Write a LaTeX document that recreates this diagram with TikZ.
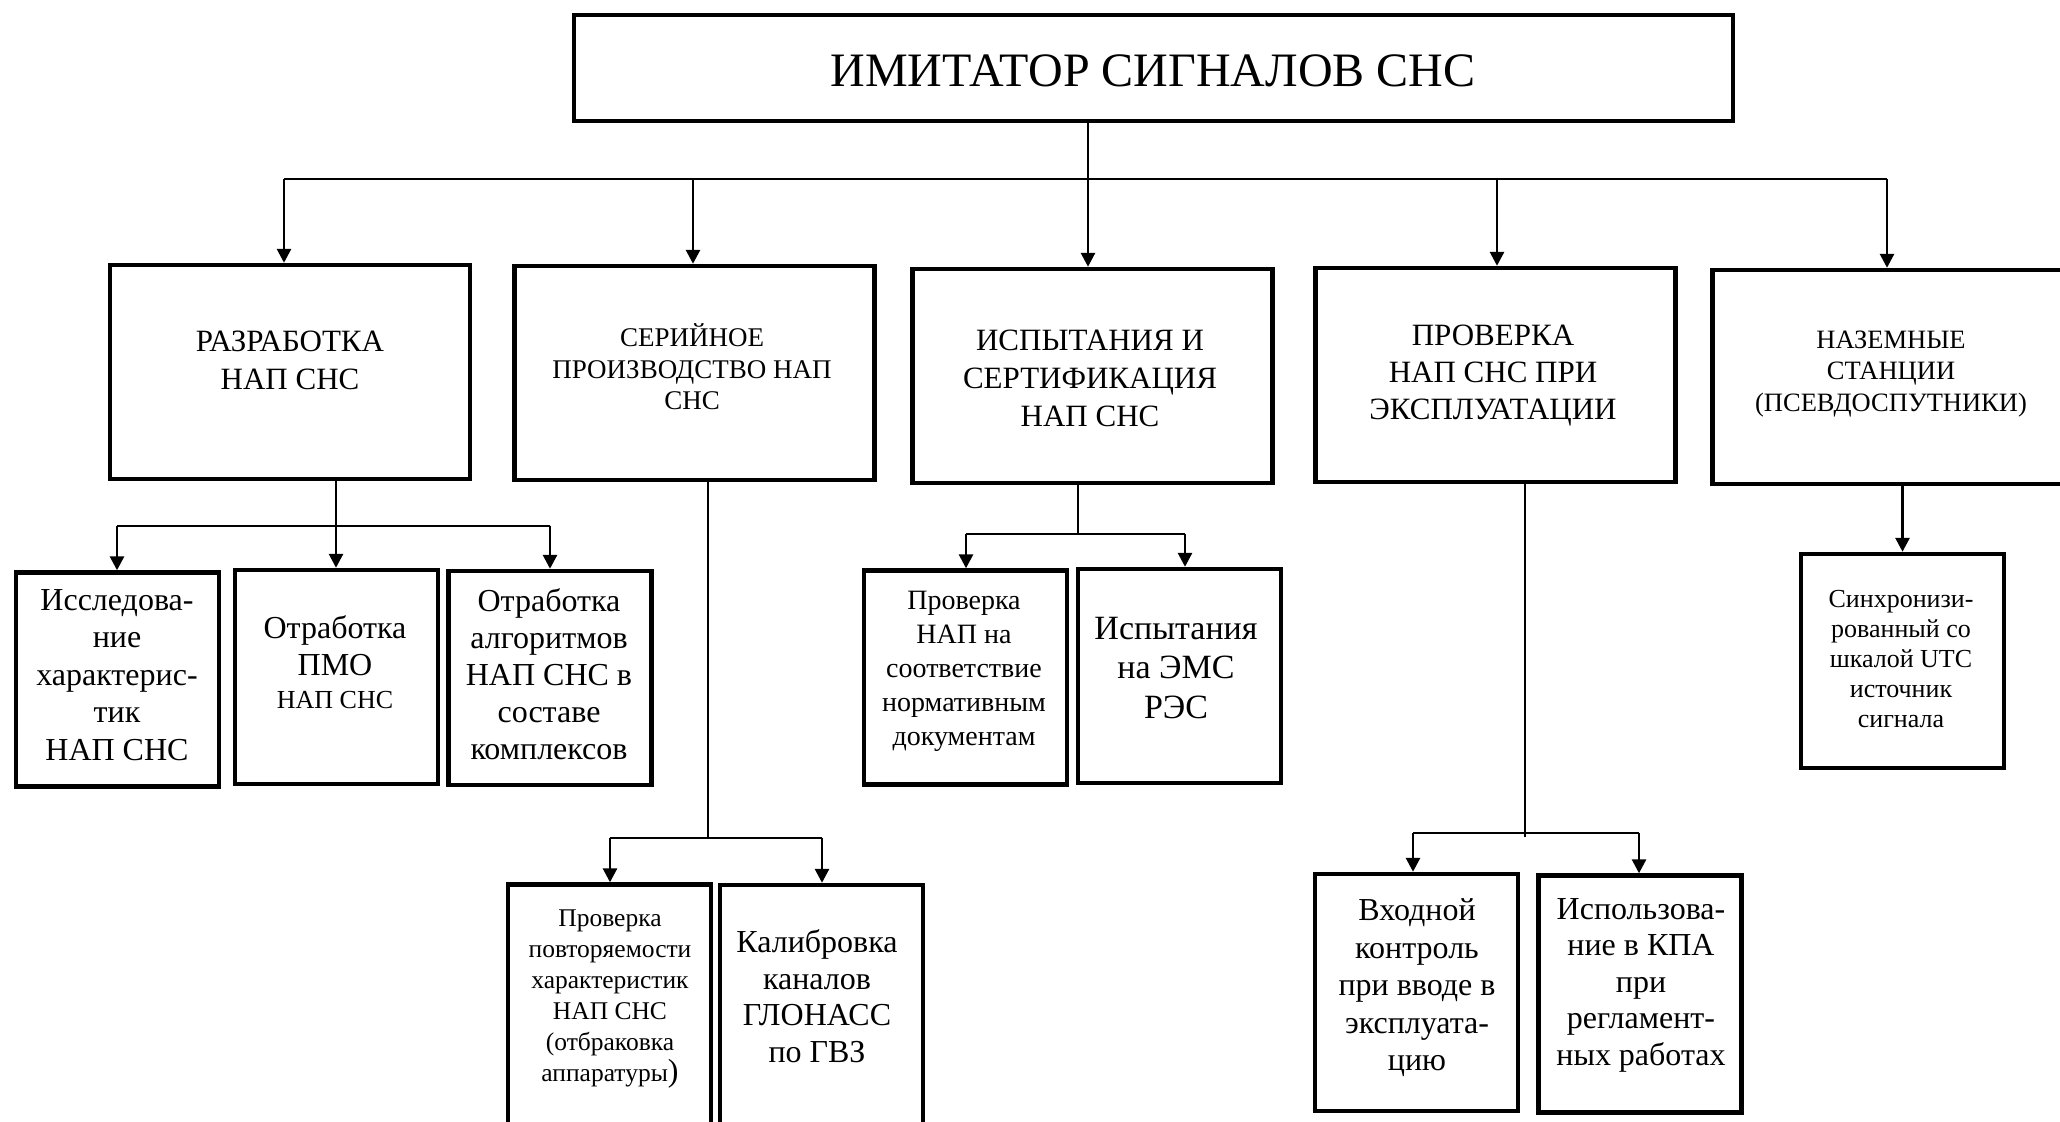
\documentclass[tikz,border=0pt]{standalone}
\usepackage{fontspec}
\setmainfont{Liberation Serif}
\usetikzlibrary{arrows.meta}
\newcommand\myfs[2]{\fontsize{#1pt}{#2pt}\selectfont}
\begin{document}
\begin{tikzpicture}[x=0.5pt,y=-0.5pt,
  box/.style={draw, line width=2.2pt, inner sep=0pt},
  topbox/.style={box, minimum width=579.5pt, minimum height=53pt},
  lone/.style={box, minimum width=180pt, minimum height=107pt},
  ltwo/.style={box, minimum width=101.5pt, minimum height=107pt},
  txt/.style={align=center, inner sep=0pt},
  conn/.style={line width=1.4pt},
  arr/.style={conn, -{Triangle[length=7pt,width=7pt]}},
]
\useasboundingbox (0,0) rectangle (2060,1122);

% boxes
\node[topbox] (top) at (1153.5,68) {};
\node[lone] (b1) at (290,372) {};
\node[lone] (b2) at (694.5,373) {};
\node[lone] (b3) at (1092.5,376) {};
\node[lone] (b4) at (1495.5,375) {};
\node[lone] (b5) at (1892.5,377) {};
\node[ltwo] (l2a) at (117.5,679.5) {};
\node[ltwo] (l2b) at (336.5,677) {};
\node[ltwo] (l2c) at (550,678) {};
\node[ltwo] (l2d) at (965.5,677.5) {};
\node[ltwo] (l2e) at (1179.5,676) {};
\node[ltwo, minimum height=126.5pt] (l2f) at (609.5,1011) {};
\node[ltwo, minimum height=126.5pt] (l2g) at (821.5,1011.5) {};
\node[ltwo] (l2h) at (1902.5,661) {};
\node[ltwo, minimum height=118.5pt] (l2i) at (1416.5,992.5) {};
\node[ltwo, minimum height=118.5pt] (l2j) at (1640,994) {};

% texts
\node[txt, font=\myfs{24}{28}] (tt) at (1153,71) {ИМИТАТОР СИГНАЛОВ СНС};
\node[txt, font=\myfs{15.5}{19}] (t1) at (290,360) {РАЗРАБОТКА\\НАП СНС};
\node[txt, font=\myfs{13.5}{15.75}] (t2) at (692,367) {СЕРИЙНОЕ\\ПРОИЗВОДСТВО НАП\\СНС};
\node[txt, font=\myfs{15.5}{19}] (t3) at (1090,378) {ИСПЫТАНИЯ И\\СЕРТИФИКАЦИЯ\\НАП СНС};
\node[txt, font=\myfs{15.5}{18.5}] (t4) at (1493,376) {ПРОВЕРКА\\НАП СНС ПРИ\\ЭКСПЛУАТАЦИИ};
\node[txt, font=\myfs{13.25}{15.75}] (t5) at (1891,374) {НАЗЕМНЫЕ\\СТАНЦИИ\\(ПСЕВДОСПУТНИКИ)};
\node[txt, font=\myfs{16}{18.75}] (ta) at (117,675) {Исследова-\\ние\\характерис-\\тик\\НАП СНС};
\node[txt, font=\myfs{16}{18.5}] (tb) at (335,662) {Отработка\\ПМО\\[-2pt]{\myfs{13}{15}НАП СНС}};
\node[txt, font=\myfs{16}{18.5}] (tc) at (549,674) {Отработка\\алгоритмов\\НАП СНС в\\составе\\комплексов};
\node[txt, font=\myfs{14}{17}] (td) at (964,671) {Проверка\\НАП на\\соответствие\\нормативным\\документам};
\node[txt, font=\myfs{17}{19.75}] (te) at (1176,668) {Испытания\\на ЭМС\\РЭС};
\node[txt, font=\myfs{12.75}{15.5}] (tf) at (610,999) {Проверка\\повторяемости\\характеристик\\НАП СНС\\(отбраковка\\аппаратуры{\myfs{16}{16})}};
\node[txt, font=\myfs{16}{18.25}] (tg) at (817,996) {Калибровка\\каналов\\ГЛОНАСС\\по ГВЗ};
\node[txt, font=\myfs{13}{15}] (th) at (1901,659) {Синхронизи-\\рованный со\\шкалой UTC\\источник\\сигнала};
\node[txt, font=\myfs{16}{18.75}] (ti) at (1417,988) {Входной\\контроль\\при вводе в\\эксплуата-\\цию};
\node[txt, font=\myfs{16}{18.25}] (tj) at (1641,985) {Использова-\\ние в КПА\\при\\регламент-\\ных работах};

% level 1 connectors
\coordinate (t0) at (1088,179);
\coordinate (bA) at (284,179);
\coordinate (bB) at (693,179);
\coordinate (bD) at (1497,179);
\coordinate (bE) at (1887,179);
\draw[conn] (bA) -- (bE);
\draw[arr] (top.south -| t0) -- (t0 |- b3.north);
\draw[arr] (bA) -- (bA |- b1.north);
\draw[arr] (bB) -- (bB |- b2.north);
\draw[arr] (bD) -- (bD |- b4.north);
\draw[arr] (bE) -- (bE |- b5.north);

% under b1
\coordinate (r1) at (336,526);
\coordinate (r1a) at (117,526);
\coordinate (r1c) at (550,526);
\draw[conn] (r1a) -- (r1c);
\draw[arr] (b1.south -| r1) -- (r1 |- l2b.north);
\draw[arr] (r1a) -- (r1a |- l2a.north);
\draw[arr] (r1c) -- (r1c |- l2c.north);

% under b2
\coordinate (r2) at (708,838);
\coordinate (r2a) at (610,838);
\coordinate (r2b) at (822,838);
\draw[conn] (b2.south -| r2) -- (r2);
\draw[conn] (r2a) -- (r2b);
\draw[arr] (r2a) -- (r2a |- l2f.north);
\draw[arr] (r2b) -- (r2b |- l2g.north);

% under b3
\coordinate (r3) at (1078,534);
\coordinate (r3a) at (966,534);
\coordinate (r3b) at (1185,534);
\draw[conn] (b3.south -| r3) -- (r3);
\draw[conn] (r3a) -- (r3b);
\draw[arr] (r3a) -- (r3a |- l2d.north);
\draw[arr] (r3b) -- (r3b |- l2e.north);

% under b4
\coordinate (r4) at (1525,837);
\coordinate (r4a) at (1413,833);
\coordinate (r4b) at (1639,833);
\draw[conn] (b4.south -| r4) -- (r4);
\draw[conn] (r4a) -- (r4b);
\draw[arr] (r4a) -- (r4a |- l2i.north);
\draw[arr] (r4b) -- (r4b |- l2j.north);

% under b5
\draw[arr] (b5.south -| l2h.north) -- (l2h.north);
\end{tikzpicture}
\end{document}
